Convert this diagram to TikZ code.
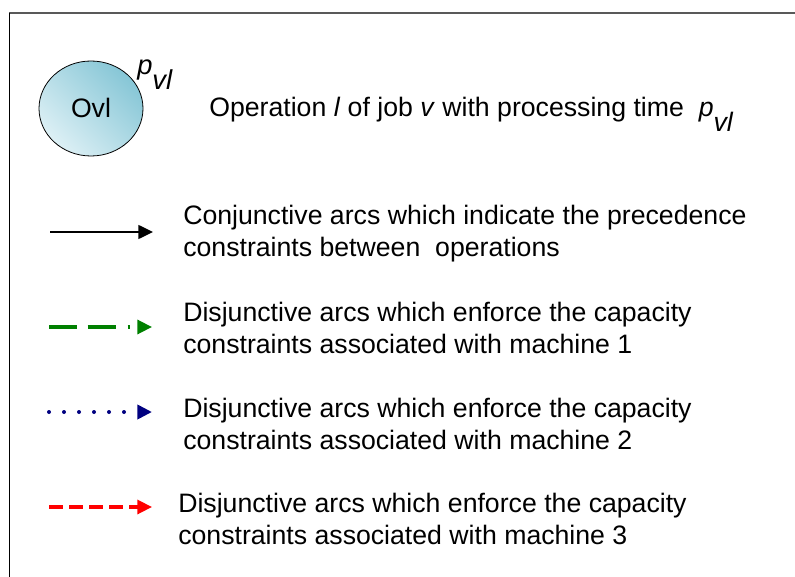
\documentclass[tikz,border=0pt]{standalone}
\usepackage{fontspec}
\setmainfont{Liberation Sans}
\usetikzlibrary{arrows.meta}
\definecolor{opdark}{HTML}{86C6D6}
\definecolor{oplight}{HTML}{DDF0F5}
\definecolor{machgreen}{HTML}{008000}
\definecolor{machblue}{HTML}{000080}
\definecolor{machred}{HTML}{FF0000}
\newcommand{\pvl}{\textit{p}\raisebox{-11pt}{\textit{vl}}}
\begin{document}
\begin{tikzpicture}[x=0.75pt,y=-0.75pt,
  legtext/.style={anchor=west,align=left,font=\fontsize{20}{24}\selectfont,inner sep=0pt},
  legarrow/.style={-{Triangle[length=11pt,width=10.5pt]}},
]
\useasboundingbox (0,0) rectangle (795,577);
% frame
\draw[gray!70!black,line width=1.5pt] (9,13.5) -- (795,13.5);
\draw[black,line width=0.8pt] (9.5,13) -- (9.5,577);
% operation node
\shade[left color=oplight,right color=opdark,shading angle=135,draw=black,line width=0.6pt]
  (91,108.5) ellipse [x radius=52,y radius=47.5];
\node[font=\fontsize{20}{24}\selectfont] (ovl) at (91,108) {Ovl};
\node[anchor=base west,inner sep=0pt,font=\fontsize{20.5}{24}\selectfont] (pvl) at (137,75) {\pvl};
\node[legtext,anchor=base west] (t0) at (209,117)
  {Operation \textit{l} of job \textit{v} with processing time\ \ \pvl};
% legend arrows
\coordinate (a1s) at (50,232); \coordinate (a1e) at (153,232);
\coordinate (a2s) at (49,327); \coordinate (a2e) at (152,327);
\coordinate (a3s) at (49,412); \coordinate (a3e) at (152,412);
\coordinate (a4s) at (49,507); \coordinate (a4e) at (152,507);
\draw[legarrow,black,line width=1.1pt] (a1s) -- (a1e);
\draw[legarrow,machgreen,line width=2.4pt,dash pattern=on 21pt off 8pt on 21pt off 9pt on 1.5pt off 20pt] (a2s) -- (a2e);
\draw[legarrow,machblue,line width=3pt,line cap=round,dash pattern=on 0pt off 11.25pt] (a3s) -- (a3e);
\draw[legarrow,machred,line width=2.4pt,dash pattern=on 10.5pt off 4.5pt] (a4s) -- (a4e);
% legend texts
\node[legtext] (t1) at (183,234) {Conjunctive arcs which indicate the precedence\\constraints between\ \ operations};
\node[legtext] (t2) at (183,328) {Disjunctive arcs which enforce the capacity\\constraints associated with machine 1};
\node[legtext] (t3) at (183,424) {Disjunctive arcs which enforce the capacity\\constraints associated with machine 2};
\node[legtext] (t4) at (178,519) {Disjunctive arcs which enforce the capacity\\constraints associated with machine 3};
\end{tikzpicture}
\end{document}
